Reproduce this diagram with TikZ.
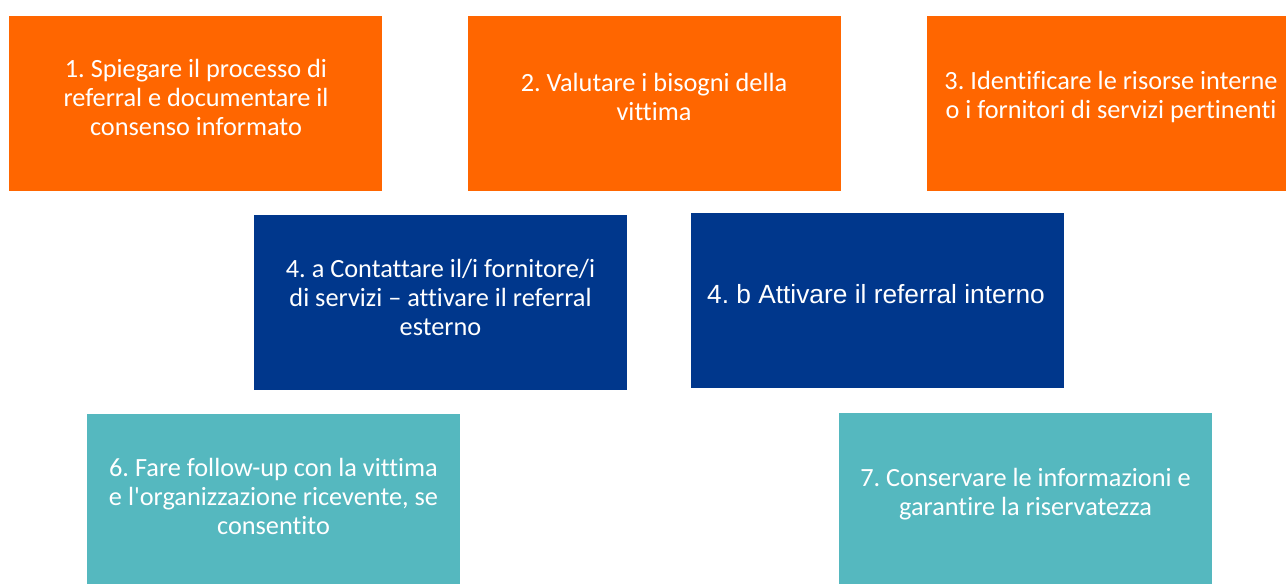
\documentclass[tikz,border=0pt]{standalone}
\usepackage{fontspec}
\setmainfont[RawFeature={-liga}]{Carlito}
\newfontfamily\arialfont{Liberation Sans}
\definecolor{orng}{HTML}{FF6600}
\definecolor{dblue}{HTML}{00378C}
\definecolor{teal2}{HTML}{55B8BF}
\frenchspacing
\begin{document}
\begin{tikzpicture}[x=1pt,y=1pt,
  box/.style={draw=none,inner sep=0pt,minimum width=373pt,minimum height=175pt},
  txt/.style={text=white,align=center,inner sep=0pt,font=\frenchspacing\fontsize{26.3}{29}\selectfont}]
\useasboundingbox (0,0) rectangle (1286,-584);
\begin{scope}
\clip (0,0) rectangle (1286,-584);
\node[box,fill=orng] (b1) at (195.5,-103.5) {};
\node[box,fill=orng] (b2) at (654,-103.5) {};
\node[box,fill=orng] (b3) at (1113,-103.5) {};
\node[box,fill=dblue] (b4a) at (440.5,-302.5) {};
\node[box,fill=dblue] (b4b) at (877,-300.5) {};
\node[box,fill=teal2] (b6) at (273.5,-501.5) {};
\node[box,fill=teal2] (b7) at (1025.5,-500.5) {};
\end{scope}
\node[txt] (t1) at (196,-97) {1. Spiegare il processo di\\referral e documentare il\\consenso informato};
\node[txt] (t2) at (654,-97) {2. Valutare i bisogni della\\vittima};
\node[txt] (t3) at (1111,-96.5) {3. Identificare le risorse interne\\o i fornitori di servizi pertinenti};
\node[txt] (t4a) at (440.5,-297) {4. a Contattare il/i fornitore/i\\di servizi -- attivare il referral\\esterno};
\node[txt,font=\frenchspacing\arialfont\fontsize{26.3}{29}\selectfont] (t4b) at (876,-294) {4. b Attivare il referral interno};
\node[txt] (t6) at (273.5,-496) {6. Fare follow-up con la vittima\\e l\textquotesingle organizzazione ricevente, se\\consentito};
\node[txt] (t7) at (1025.5,-494) {7. Conservare le informazioni e\\garantire la riservatezza};
\end{tikzpicture}
\end{document}
